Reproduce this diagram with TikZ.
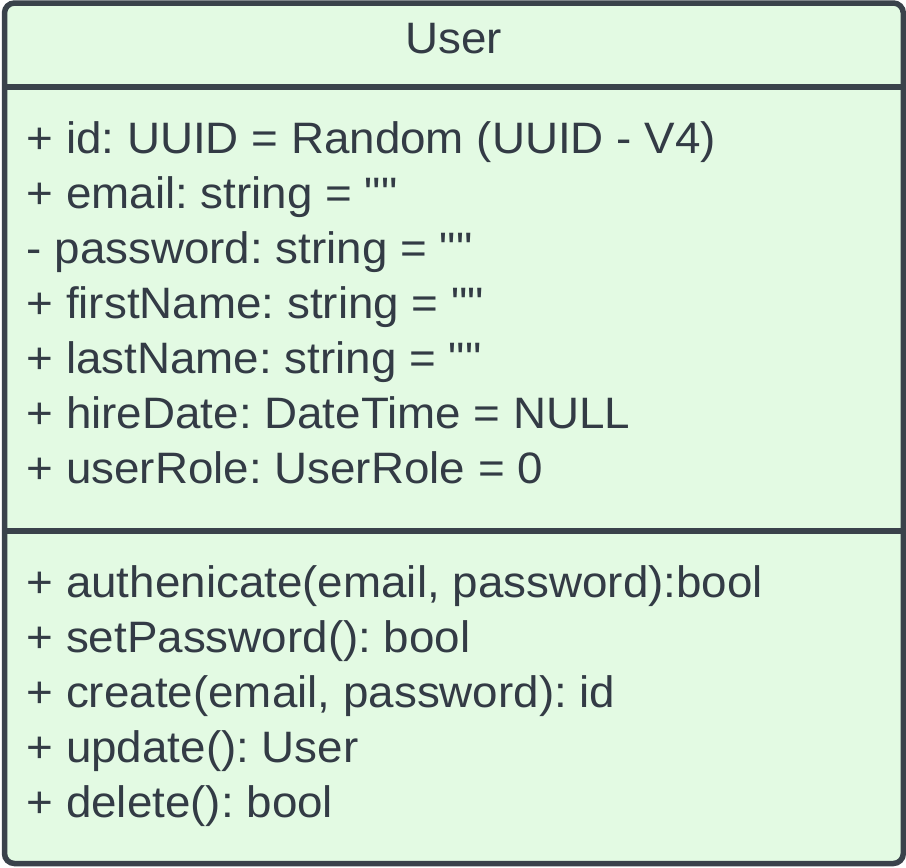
\documentclass[tikz,border=0pt]{standalone}
\usepackage{fontspec}
\setmainfont{Liberation Sans}[Ligatures=TeXOff, FakeStretch=1.04]
\usetikzlibrary{positioning}
\definecolor{umlfill}{HTML}{E3FAE3}
\definecolor{umlline}{HTML}{3A424B}
\definecolor{umltext}{HTML}{333B45}
\frenchspacing

\begin{document}
\begin{tikzpicture}[x=1pt, y=-1pt,
		member/.style={anchor=base west, inner sep=0pt, text=umltext, font=\fontsize{44}{55}\selectfont}]
			\useasboundingbox (0,0) rectangle (906,868);
			% class box
			\draw[umlline, fill=umlfill, line width=5.5pt, rounded corners=10pt] (4.5,3) rectangle (903.3,863.5);
			\draw[umlline, line width=5.5pt] (4.5,87) -- (903.3,87);
			\draw[umlline, line width=5.5pt] (4.5,531) -- (903.3,531);
			% name
			\node[member, anchor=base] (name) at (453.5,53.5) {User};
			% attributes
			\node[member] (id) at (26.5,153) {+ id: UUID = Random (UUID - V4)};
			\node[member] (email) at (26.5,208) {+ email: string = ""};
			\node[member] (password) at (26.5,263) {- password: string = ""};
			\node[member] (first) at (26.5,318) {+ firstName: string = ""};
			\node[member] (last) at (26.5,373) {+ lastName: string = ""};
			\node[member] (hire) at (26.5,428) {+ hireDate: DateTime = NULL};
			\node[member] (role) at (26.5,483) {+ userRole: UserRole = 0};
			% methods
			\node[member] (auth) at (26.5,597) {+ authenicate(email, password):bool};
			\node[member] (setpw) at (26.5,652) {+ setPassword(): bool};
			\node[member] (create) at (26.5,707) {+ create(email, password): id};
			\node[member] (update) at (26.5,762) {+ update(): User};
			\node[member] (delete) at (26.5,817) {+ delete(): bool};
\end{tikzpicture}
\end{document}
